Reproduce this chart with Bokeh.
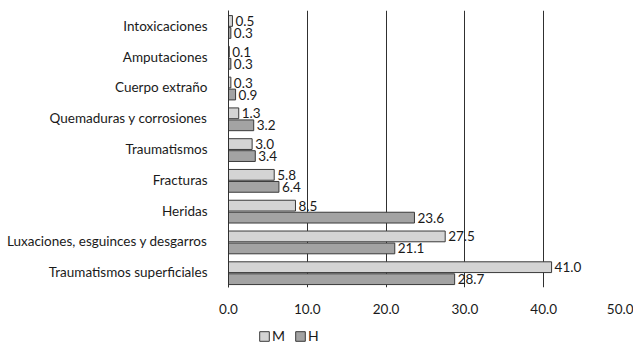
from bokeh.plotting import figure
from bokeh.layouts import column
from bokeh.models import (FactorRange, ColumnDataSource, Legend, LegendItem, LabelSet,
                          FixedTicker, CustomJSTickFormatter)
from bokeh.core.properties import value
from bokeh.transform import dodge
from bokeh.embed import file_html
from bokeh.resources import INLINE

categories = ["Intoxicaciones", "Amputaciones", "Cuerpo extraño",
              "Quemaduras y corrosiones", "Traumatismos", "Fracturas",
              "Heridas", "Luxaciones, esguinces y desgarros",
              "Traumatismos superficiales"]
m_values = [0.5, 0.1, 0.3, 1.3, 3.0, 5.8, 8.5, 27.5, 41.0]
h_values = [0.3, 0.3, 0.9, 3.2, 3.4, 6.4, 23.6, 21.1, 28.7]
x_ticks = [0, 10, 20, 30, 40, 50]
series_names = ["M", "H"]

FONT = "Lato"
M_OFF = 0.16
H_OFF = -0.23
M_FILL = "#d4d4d4"
H_FILL = "#a3a3a3"
EDGE = "#3a3a3a"

src = ColumnDataSource(dict(
    cat=categories, m=m_values, h=h_values,
    ml=["%.1f" % v for v in m_values],
    hl=["%.1f" % v for v in h_values],
))

p = figure(width=633, height=322, output_backend="svg", toolbar_location=None,
           y_range=FactorRange(*list(reversed(categories))),
           x_range=(0, 50))
p.min_border_left = 228
p.min_border_top = 10
p.min_border_right = 11
p.min_border_bottom = 35
p.outline_line_color = None
p.ygrid.grid_line_color = None
p.xgrid.grid_line_color = "#303030"
p.xgrid.grid_line_width = 1
p.xgrid.ticker = FixedTicker(ticks=x_ticks)
p.y_range.range_padding = 0

p.hbar(y=dodge("cat", M_OFF, range=p.y_range), right="m", left=0, height=0.35,
       source=src, fill_color=M_FILL, line_color=EDGE, line_width=1)
p.hbar(y=dodge("cat", H_OFF, range=p.y_range), right="h", left=0, height=0.35,
       source=src, fill_color=H_FILL, line_color=EDGE, line_width=1)

lm = LabelSet(x="m", y=dodge("cat", M_OFF, range=p.y_range), text="ml", source=src,
              x_offset=3, text_baseline="middle", text_font=value(FONT),
              text_font_size="13.5px", text_color="#1a1a1a")
lh = LabelSet(x="h", y=dodge("cat", H_OFF, range=p.y_range), text="hl", source=src,
              x_offset=3, text_baseline="middle", text_font=value(FONT),
              text_font_size="13.5px", text_color="#1a1a1a")
p.add_layout(lm)
p.add_layout(lh)

p.xaxis.ticker = FixedTicker(ticks=x_ticks)
p.xaxis.formatter = CustomJSTickFormatter(code="return tick.toFixed(1);")
p.xaxis.axis_line_color = None
p.xaxis.major_tick_line_color = None
p.xaxis.minor_tick_line_color = None
p.xaxis.major_label_standoff = 10
p.xaxis.major_label_text_font = FONT
p.xaxis.major_label_text_font_size = "13.5px"
p.xaxis.major_label_text_color = "#1a1a1a"

p.yaxis.axis_line_color = "#303030"
p.yaxis.major_tick_line_color = None
p.yaxis.minor_tick_line_color = None
p.yaxis.major_label_standoff = 15
p.yaxis.major_label_text_font = FONT
p.yaxis.major_label_text_font_size = "13.5px"
p.yaxis.major_label_text_color = "#1a1a1a"

# legend strip below the chart (legend glyphs take the same styles as the bars)
pl = figure(width=633, height=22, output_backend="svg", toolbar_location=None,
            x_range=(0, 1), y_range=(0, 1),
            x_axis_location=None, y_axis_location=None)
pl.min_border_left = 0
pl.min_border_right = 0
pl.min_border_top = 0
pl.min_border_bottom = 0
pl.outline_line_color = None
pl.grid.visible = False
leg_src = ColumnDataSource(dict(y=[-5.0], right=[0.0]))
r1 = pl.hbar(y="y", right="right", left=0, height=0.3, source=leg_src,
             fill_color=M_FILL, line_color=EDGE, line_width=1)
r2 = pl.hbar(y="y", right="right", left=0, height=0.3, source=leg_src,
             fill_color=H_FILL, line_color=EDGE, line_width=1)
legend = Legend(items=[LegendItem(label=series_names[0], renderers=[r1]),
                       LegendItem(label=series_names[1], renderers=[r2])],
                orientation="horizontal", location=(30, 0),
                glyph_width=12, glyph_height=12, label_standoff=2, spacing=2,
                padding=0, margin=0, border_line_color=None,
                background_fill_alpha=0,
                label_text_font=FONT, label_text_font_size="14px",
                label_text_color="#1a1a1a")
pl.add_layout(legend, "center")

layout = column(p, pl, spacing=0)
open("out.html", "w").write(file_html(layout, INLINE))
